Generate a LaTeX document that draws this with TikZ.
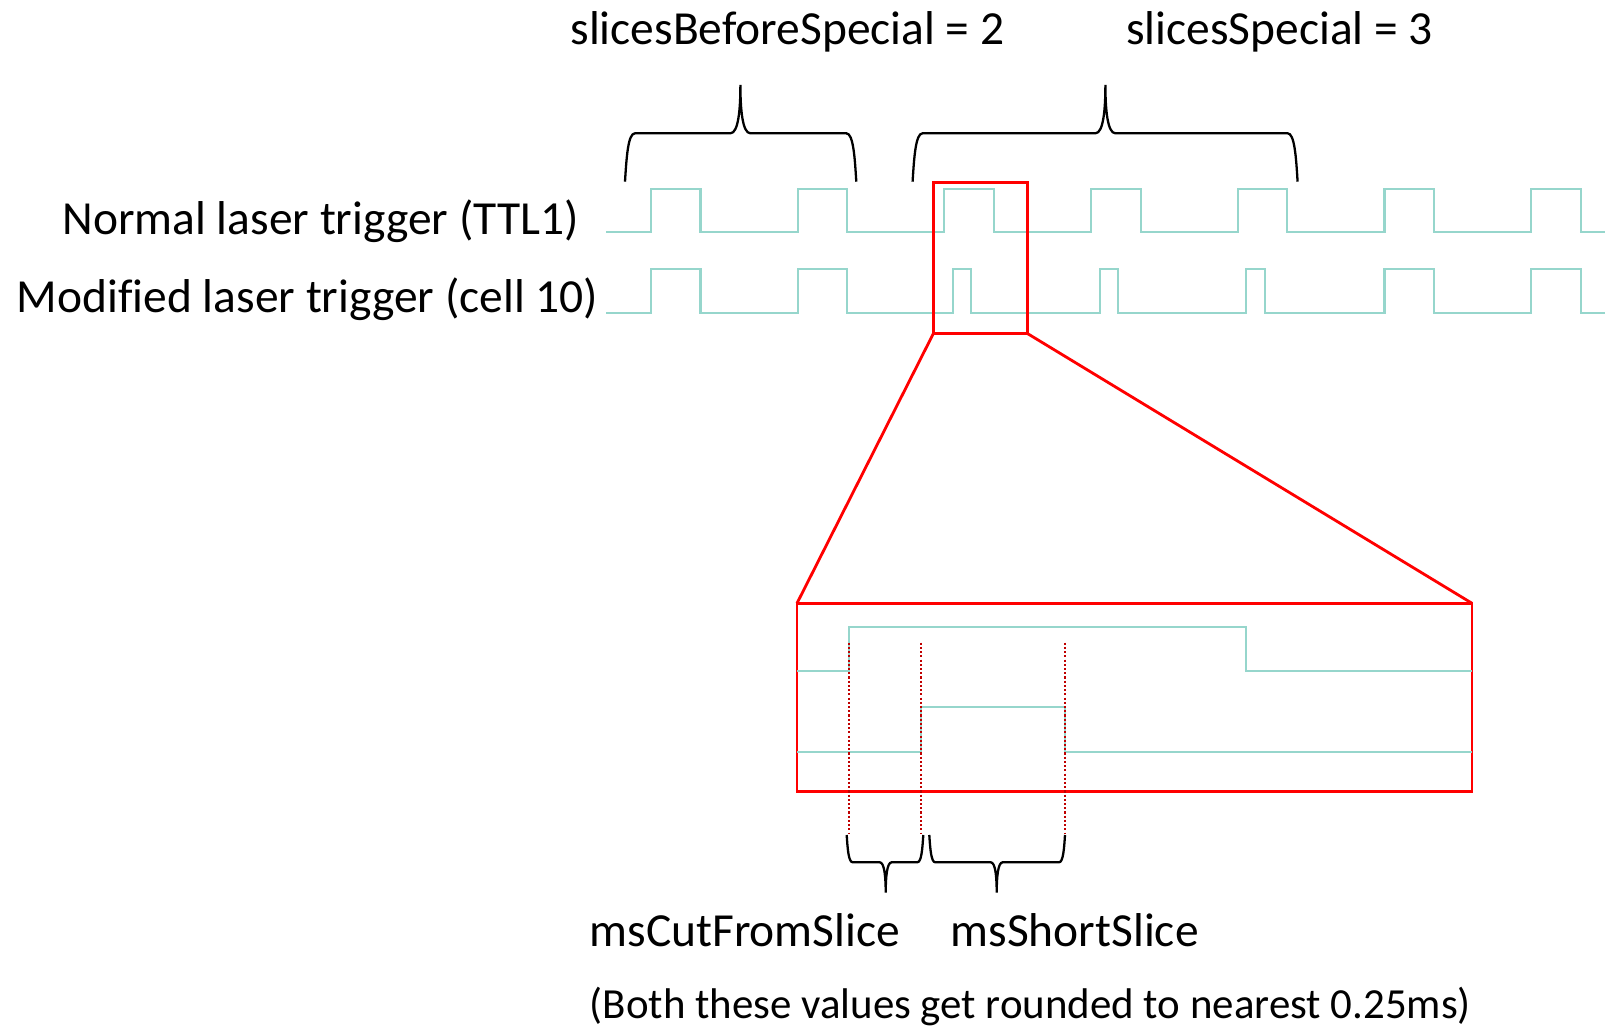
\documentclass[tikz,border=0pt]{standalone}
\usepackage{fontspec}
\setmainfont{Carlito}[Ligatures=NoCommon]
\usepackage{tikz}

\definecolor{ttlteal}{RGB}{150,214,204}
\definecolor{zoomred}{RGB}{255,0,0}
\definecolor{markred}{RGB}{192,0,0}

% brace: xL, xC, xR, y of ends, y of flat, y of cusp, corner size
\newcommand\timingbrace[7]{%
  \draw[bracestyle] (#1,#4) .. controls ({#1+0.15*#7},{#5+0.5*(#4-#5)}) and ({#1+0.3*#7},#5) .. ({#1+#7},#5)
    -- ({#2-#7},#5) .. controls ({#2-0.2*#7},#5) and (#2,{#5+0.5*(#6-#5)}) .. (#2,#6)
    .. controls (#2,{#5+0.5*(#6-#5)}) and ({#2+0.2*#7},#5) .. ({#2+#7},#5)
    -- ({#3-#7},#5) .. controls ({#3-0.3*#7},#5) and ({#3-0.15*#7},{#5+0.5*(#4-#5)}) .. (#3,#4);}

\begin{document}
\begin{tikzpicture}
  [x=0.01cm, y=-0.01cm,
   trace/.style={draw=ttlteal, line width=0.6pt},
   zoombox/.style={draw=zoomred, line width=0.8pt},
   marker/.style={draw=markred, line width=0.6pt, dash pattern=on 0.6pt off 0.6pt},
   bracestyle/.style={draw=black, line width=0.65pt},
   lbl/.style={inner sep=0, font=\fontsize{13.5}{16}\selectfont},
   note/.style={inner sep=0, font=\fontsize{12.2}{15}\selectfont}]

  \useasboundingbox (0,0) rectangle (1605,1028);

  % labels
  \node[lbl, anchor=base] (beforeLbl) at (787.5,44.5) {slicesBeforeSpecial = 2};
  \node[lbl, anchor=base] (specialLbl) at (1279.5,44.5) {slicesSpecial = 3};
  \node[lbl, anchor=base east] (normalLbl) at (579.5,235) {Normal laser trigger (TTL1)};
  \node[lbl, anchor=base east] (modLbl) at (599,313) {Modified laser trigger (cell 10)};

  % top braces
  \timingbrace{625}{740.4}{856.3}{181.7}{133.3}{85}{10}
  \timingbrace{912.6}{1105.4}{1297.6}{181.7}{133.3}{85}{10}

  % normal trigger
  \draw[trace] (606,232.3) \foreach \k in {0,...,6} {
      -- ({651+146.7*\k},232.3) -- ({651+146.7*\k},189.3)
      -- ({700.5+146.7*\k},189.3) -- ({700.5+146.7*\k},232.3) }
    -- (1605,232.3);

  % modified trigger
  \draw[trace] (606,313.3) \foreach \k/\a/\b in {0/0/49.5, 1/0/49.5, 2/8.5/27, 3/8.5/27, 4/8.5/27, 5/0/49.5, 6/0/49.5} {
      -- ({651+146.7*\k+\a},313.3) -- ({651+146.7*\k+\a},269.3)
      -- ({651+146.7*\k+\b},269.3) -- ({651+146.7*\k+\b},313.3) }
    -- (1605,313.3);

  % zoom boxes
  \coordinate (smallNW) at (933.3,182.3);
  \coordinate (smallSW) at (933.3,333.7);
  \coordinate (smallSE) at (1027.7,333.7);
  \coordinate (bigNW) at (797,603.3);
  \coordinate (bigNE) at (1472,603.3);
  \coordinate (bigSE) at (1472,791.3);
  \draw[zoombox] (smallNW) rectangle (smallSE);
  \draw[zoombox] (bigNW) rectangle (bigSE);
  \draw[zoombox] (smallSW) -- (bigNW);
  \draw[zoombox] (smallSE) -- (bigNE);

  % zoomed traces
  \draw[trace] (797,671) -- (848.75,671) -- (848.75,626.7) -- (1245.6,626.7)
    -- (1245.6,671) -- (1472,671);
  \draw[trace] (797,751.7) -- (920.6,751.7) -- (920.6,707) -- (1064.8,707)
    -- (1064.8,751.7) -- (1472,751.7);

  % markers
  \coordinate (cutTop) at (848.75,642.7);
  \coordinate (cutBot) at (848.75,834);
  \coordinate (shortTop) at (920.6,642.7);
  \coordinate (shortBot) at (920.6,834);
  \coordinate (endTop) at (1064.8,642.7);
  \coordinate (endBot) at (1064.8,834);
  \draw[marker] (cutTop) -- (cutBot);
  \draw[marker] (shortTop) -- (shortBot);
  \draw[marker] (endTop) -- (endBot);

  % bottom braces
  \timingbrace{846.7}{885.7}{923.3}{835}{862.3}{892.7}{6}
  \timingbrace{929.3}{996.7}{1065}{835}{862.3}{892.7}{6}

  \node[lbl, anchor=base west] (cutLbl) at (589,947) {msCutFromSlice};
  \node[lbl, anchor=base west] (shortLbl) at (950,947) {msShortSlice};
  \node[note, anchor=base west] (noteLbl) at (589,1019) {(Both these values get rounded to nearest 0.25ms)};

\end{tikzpicture}
\end{document}
